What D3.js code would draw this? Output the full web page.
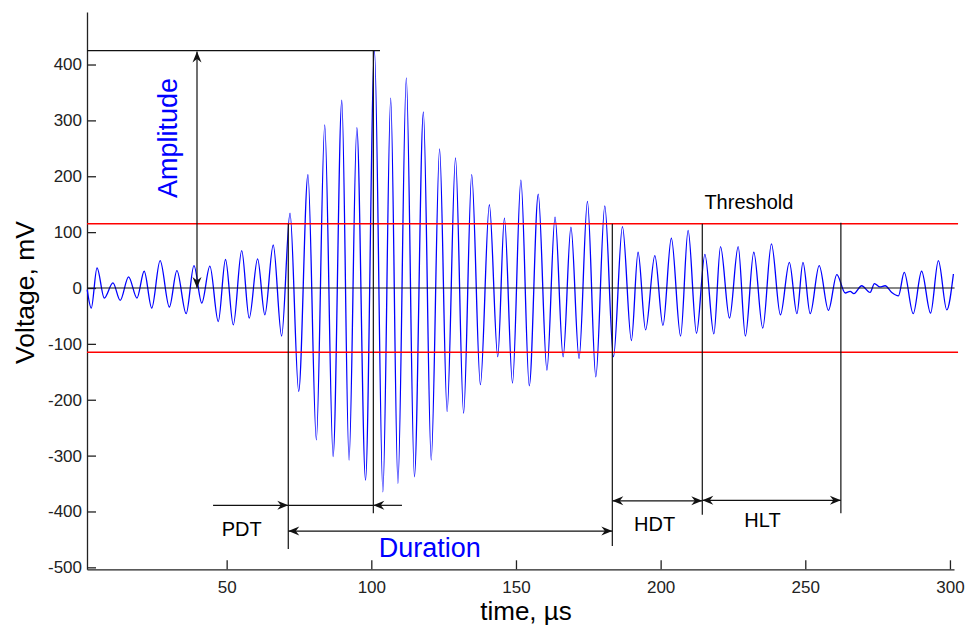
<!DOCTYPE html>
<html lang="en">
<head>
<meta charset="UTF-8">
<title>Acoustic emission hit parameters</title>
<script src="https://d3js.org/d3.v7.min.js"></script>
<style>
  body { margin: 0; background: #fff; }
  svg { display: block; font-family: "Liberation Sans", Arial, sans-serif; }
  .tick text { font-size: 17px; fill: #222; }
  .tick line, .domain { stroke: #222; stroke-width: 1.3px; }
  .guide { stroke: #111; stroke-width: 1.2px; fill: none; }
  .thr { stroke: #ff0000; stroke-width: 1.4px; }
  .wave { fill: none; stroke: #0000ff; stroke-width: 1.3px; }
</style>
</head>
<body>
<svg id="chart" width="968" height="629"></svg>
<script>
// waveform extrema: time (µs) and voltage (mV)
const waveTime = [1.8, 3.2, 5.2, 7.7, 10.7, 13.2, 16.1, 19.0, 21.5, 24.1, 27.0, 30.2, 32.8, 36.0, 38.7,
  41.4, 44.2, 47.1, 49.6, 52.3, 55.2, 57.8, 60.7, 63.2, 66.1, 69.0, 71.9, 74.9, 78.1, 81.0,
  83.9, 86.8, 89.8, 92.3, 95.0, 98.0, 101.1, 104.0, 106.7, 109.2, 112.1, 114.9, 118.0, 120.7,
  123.6, 126.2, 129.1, 131.9, 134.7, 137.7, 140.8, 143.7, 146.0, 148.8, 151.7, 154.6, 157.7,
  160.7, 163.5, 166.3, 169.0, 171.8, 174.7, 177.6, 180.7, 183.7, 186.8, 189.9, 192.2, 194.8,
  198.0, 200.8, 203.7, 206.9, 209.5, 212.4, 215.3, 218.4, 220.7, 223.8, 226.8, 229.3, 232.2,
  235.3, 238.3, 241.4, 244.5, 247.1, 249.2, 251.7, 254.8, 258.0, 260.9, 263.8, 265.5, 266.8,
  269.5, 272.4, 273.9, 275.8, 277.6, 279.9, 282.2, 284.2, 287.3, 290.2, 293.3, 296.0, 298.9, 301.2];
const waveMv = [-3, -36, 36, -18, 9, -22, 20, -18, 30, -36, 49, -34, 31, -46, 40,
  -27, 39, -60, 51, -66, 67, -54, 52, -48, 77, -86, 134, -185, 203, -272,
  292, -302, 336, -308, 287, -344, 425, -365, 340, -350, 376, -338, 315, -308,
  249, -221, 233, -224, 203, -173, 149, -123, 125, -170, 193, -175, 168,
  -147, 127, -123, 109, -126, 155, -159, 147, -123, 110, -94, 64, -75,
  58, -67, 89, -86, 103, -81, 60, -82, 74, -54, 74, -86, 64,
  -72, 79, -48, 46, -46, 46, -46, 40, -40, 24, -9, -6, -10,
  4, -8, 8, 2, 4, -8, -14, 28, -46, 30, -45, 49, -39, 25];

const xTicks = [50, 100, 150, 200, 250, 300];
const yTicks = [-500, -400, -300, -200, -100, 0, 100, 200, 300, 400];

const threshold = 115;   // mV
const amplitude = 425;   // mV, peak
// event times, µs
const tFirst = 71.3;     // first threshold crossing
const tPeak = 100.7;     // time of peak
const tLast = 183.3;     // last threshold crossing
const tHdt = 214.4;      // end of hit definition time
const tHlt = 262.3;      // end of hit lockout time

const svg = d3.select("#chart");
const x = d3.scaleLinear().domain([1.73, 301.4]).range([87, 954]);
const y = d3.scaleLinear().domain([-503.5, 494]).range([569.3, 12]);

const defs = svg.append("defs");
defs.append("marker")
  .attr("id", "head")
  .attr("viewBox", "-12 -6 14 12")
  .attr("refX", 0).attr("refY", 0)
  .attr("markerWidth", 14).attr("markerHeight", 12)
  .attr("markerUnits", "userSpaceOnUse")
  .attr("orient", "auto-start-reverse")
  .append("path")
  .attr("d", "M0,0 L-11,-4.5 L-7.5,0 L-11,4.5 Z")
  .attr("fill", "#111");

// axes, ticks pointing inward, plain hyphen minus like the original
svg.append("g")
  .attr("transform", `translate(0,${y.range()[0]})`)
  .call(d3.axisBottom(x).tickValues(xTicks).tickFormat(d => String(d))
    .tickSizeInner(-9).tickSizeOuter(0).tickPadding(12));

svg.append("g")
  .attr("transform", `translate(${x.range()[0]},0)`)
  .call(d3.axisLeft(y).tickValues(yTicks).tickFormat(d => String(d))
    .tickSizeInner(-9).tickSizeOuter(0).tickPadding(5));

svg.selectAll(".domain").attr("fill", "none");

// waveform
const wave = waveTime.map((t, i) => [t, waveMv[i]]);
svg.append("path")
  .datum(wave)
  .attr("class", "wave")
  .attr("d", d3.line().x(d => x(d[0])).y(d => y(d[1])).curve(d3.curveMonotoneX));

// zero line and thresholds
svg.append("line").attr("class", "guide")
  .attr("x1", x(1.73)).attr("x2", x(301.6)).attr("y1", y(0)).attr("y2", y(0));
[threshold, -threshold].forEach(v => {
  svg.append("line").attr("class", "thr")
    .attr("x1", x(1.73)).attr("x2", x(302.8)).attr("y1", y(v)).attr("y2", y(v));
});

// amplitude level
svg.append("line").attr("class", "guide").attr("stroke", "#333")
  .attr("x1", x(1.73)).attr("x2", x(103)).attr("y1", y(amplitude)).attr("y2", y(amplitude));

// event verticals
const verticals = [
  [tFirst, threshold, -467],
  [tPeak, amplitude, -403],
  [tLast, threshold, -462],
  [tHdt, threshold, -406],
  [tHlt, 117, -403]
];
verticals.forEach(([t, top, bottom]) => {
  svg.append("line").attr("class", "guide")
    .attr("x1", x(t)).attr("x2", x(t)).attr("y1", y(top)).attr("y2", y(bottom));
});

function arrow(x1, y1, x2, y2, both) {
  const l = svg.append("line").attr("class", "guide")
    .attr("x1", x1).attr("y1", y1).attr("x2", x2).attr("y2", y2)
    .attr("marker-end", "url(#head)");
  if (both) l.attr("marker-start", "url(#head)");
}

// amplitude arrow
arrow(x(39.75), y(0), x(39.75), y(amplitude) + 1, true);
// PDT
arrow(x(45.3), y(-389), x(tFirst), y(-389), false);
arrow(x(110.6), y(-389), x(tPeak), y(-389), false);
svg.append("line").attr("class", "guide")
  .attr("x1", x(tFirst)).attr("x2", x(tPeak)).attr("y1", y(-389)).attr("y2", y(-389));
// duration, HDT, HLT
arrow(x(tFirst), y(-435), x(tLast), y(-435), true);
arrow(x(tLast), y(-381), x(tHdt), y(-381), true);
arrow(x(tHdt), y(-380), x(tHlt), y(-380), true);

// labels
const txt = (t, v, s, size, color) => svg.append("text")
  .attr("x", x(t)).attr("y", y(v))
  .attr("text-anchor", "middle")
  .attr("font-size", size)
  .attr("fill", color)
  .text(s);

txt(55.2, -444, "PDT", 20, "#000");
txt(120.2, -482, "Duration", 27, "#0000ff");
txt(197.9, -435, "HDT", 20, "#000");
txt(235.2, -428, "HLT", 20, "#000");
txt(230.5, 141, "Threshold", 20, "#000");

svg.append("text")
  .attr("transform", `translate(${x(33.0)},${y(268.5)}) rotate(-90)`)
  .attr("text-anchor", "middle")
  .attr("font-size", 27)
  .attr("fill", "#0000ff")
  .text("Amplitude");

// axis titles
svg.append("text")
  .attr("transform", "translate(34,292.5) rotate(-90)")
  .attr("text-anchor", "middle")
  .attr("font-size", 26.5)
  .attr("fill", "#000")
  .text("Voltage, mV");

svg.append("text")
  .attr("x", 526).attr("y", 620)
  .attr("text-anchor", "middle")
  .attr("font-size", 26)
  .attr("fill", "#000")
  .text("time, µs");
</script>
</body>
</html>
